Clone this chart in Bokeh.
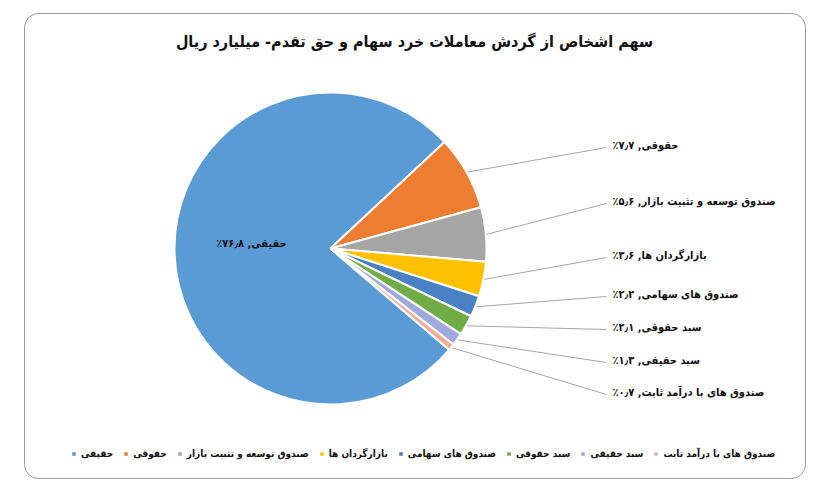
import numpy as np
from bokeh.plotting import figure
from bokeh.models import Range1d, ColumnDataSource, Legend, LegendItem
from bokeh.core.properties import value
from bokeh.embed import file_html
from bokeh.resources import INLINE

# ---- data ----
categories = ["حقیقی", "حقوقی", "صندوق توسعه و تثبیت بازار", "بازارگردان ها",
              "صندوق های سهامی", "سبد حقوقی", "سبد حقیقی", "صندوق های با درآمد ثابت"]
shares = [76.8, 7.7, 5.6, 3.6, 2.2, 2.1, 1.3, 0.7]
share_labels = ["۷۶٫۸٪", "۷٫۷٪", "۵٫۶٪", "۳٫۶٪", "۲٫۲٪", "۲٫۱٪", "۱٫۳٪", "۰٫۷٪"]
title_text = "سهم اشخاص از گردش معاملات خرد سهام و حق تقدم- میلیارد ریال"

# ---- style / layout (screen px, origin top-left) ----
colors = ["#5B9BD5", "#ED7D31", "#A5A5A5", "#FFC000", "#4A80C4", "#70AD47", "#9FA9DC", "#F2AD98"]
FONT = "DejaVu Sans Condensed"
W, H = 810, 484
def Y(sy):
    return H - sy

cx, cy, R = 330, Y(248), 156
first_angle = 130.5                # degrees clockwise from 12 o'clock
label_x = 612
line_end_x = 606
label_sy = [145, 201, 255, 294, 327, 360, 392]
RLE, PDF = "\u202B", "\u202C"

p = figure(width=W, height=H, output_backend="svg", toolbar_location=None,
           x_range=Range1d(0, W), y_range=Range1d(0, H), min_border=0,
           outline_line_color=None, background_fill_color="white", border_fill_color="white")
p.axis.visible = False
p.grid.visible = False

# rounded frame
p.quad(left=24, right=805, bottom=Y(478), top=Y(13), border_radius=14,
       fill_color=None, line_color="#9a9a9a", line_width=1)

# wedges from data
vals = np.array(shares, dtype=float)
tot = vals.sum()
cum = np.concatenate([[0.0], np.cumsum(vals)[:-1]])
start_cw = first_angle + cum / tot * 360.0
end_cw = start_cw + vals / tot * 360.0
a_hi = np.deg2rad(90.0 - start_cw)
a_lo = np.deg2rad(90.0 - end_cw)
src = ColumnDataSource(dict(start=a_lo, end=a_hi, color=colors, cat=categories))
wr = p.wedge(x=cx, y=cy, radius=R, start_angle="start", end_angle="end",
             direction="anticlock", fill_color="color", line_color="white",
             line_width=2, source=src)

# inner label for the big slice
p.text(x=[251], y=[Y(243)],
       text=[RLE + categories[0] + ", " + share_labels[0] + PDF],
       text_font=value(FONT), text_font_style="bold", text_font_size="11px",
       text_align="center", text_baseline="middle", text_color="#111111")

# outside labels with leader lines
mid = (a_lo + a_hi) / 2.0
xs, ys = [], []
for i in range(1, len(vals)):
    sx = cx + (R + 1) * np.cos(mid[i])
    sy = cy + (R + 1) * np.sin(mid[i])
    xs.append([sx, line_end_x])
    ys.append([sy, Y(label_sy[i - 1] + 2)])
p.multi_line(xs=xs, ys=ys, line_color="#a6a6a6", line_width=1)
p.text(x=[label_x] * (len(vals) - 1), y=[Y(v) for v in label_sy],
       text=[RLE + c + ", " + s + PDF for c, s in zip(categories[1:], share_labels[1:])],
       text_font=value(FONT), text_font_style="bold", text_font_size="11px",
       text_align="left", text_baseline="middle", text_color="#111111")

# title
p.text(x=[414], y=[Y(41)], text=[title_text], text_font=value(FONT),
       text_font_style="bold", text_font_size="16px", text_align="center",
       text_baseline="middle", text_color="#111111")

# legend
items = [LegendItem(label=c, renderers=[wr], index=i) for i, c in enumerate(categories)]
legend = Legend(items=items, orientation="horizontal", location=(70, 25),
                glyph_width=7, glyph_height=7, label_standoff=4, spacing=9,
                label_text_font=FONT, label_text_font_style="bold",
                label_text_font_size="10px", label_text_color="#111111",
                label_height=12, padding=2, margin=0,
                border_line_color=None, background_fill_alpha=0)
p.add_layout(legend, "center")

open("out.html", "w").write(file_html(p, INLINE))
